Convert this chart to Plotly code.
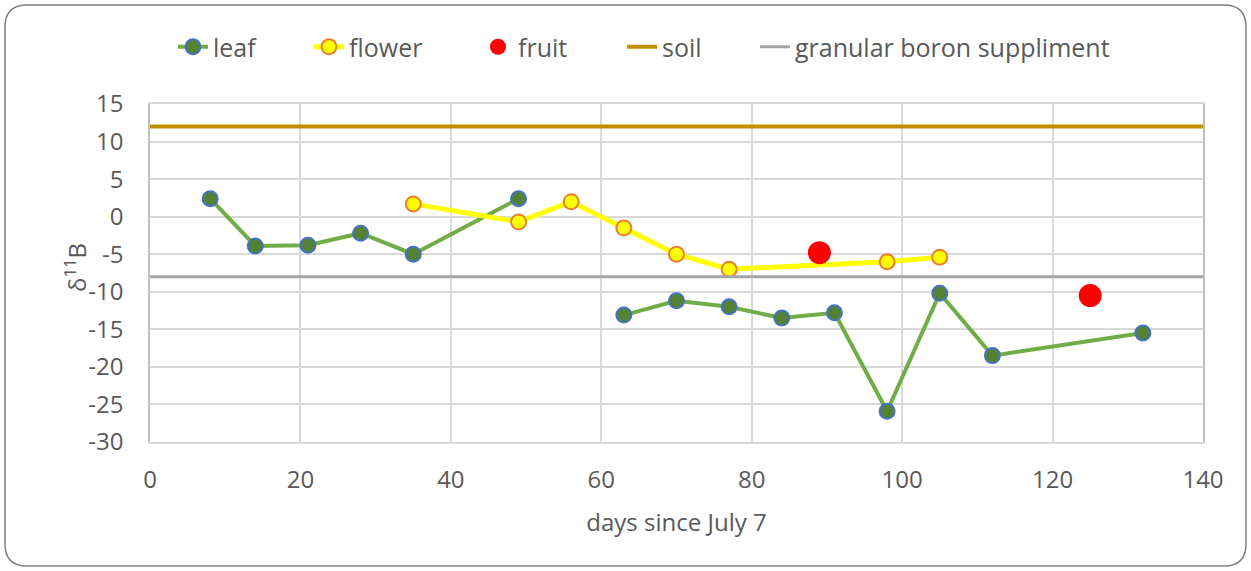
"""Boron isotope chart: leaf, flower, fruit vs soil and granular supplement."""

import plotly.graph_objects as go

# leaf samples (None marks the gap in the series)
leaf_days = [8, 14, 21, 28, 35, 49, 56, 63, 70, 77, 84, 91, 98, 105, 112, 132]
leaf_d11b = [2.4, -3.9, -3.8, -2.2, -5.0, 2.4, None, -13.1, -11.2, -12.0, -13.5, -12.8, -25.9, -10.2, -18.5, -15.5]

flower_days = [35, 49, 56, 63, 70, 77, 98, 105]
flower_d11b = [1.7, -0.7, 2.0, -1.5, -5.0, -7.0, -6.0, -5.4]

fruit_days = [89, 125]
fruit_d11b = [-4.8, -10.5]

soil_days = [0, 140]
soil_d11b = [12, 12]

granular_days = [0, 140]
granular_d11b = [-8, -8]

x_ticks = [0, 20, 40, 60, 80, 100, 120, 140]
y_ticks = [15, 10, 5, 0, -5, -10, -15, -20, -25, -30]

TEXT = "#595959"
GRID = "#d9d9d9"
FONT = "Open Sans"
W, H = 1053.0, 338.0   # plot area size in px


def px(x):
    return (x - 150) / W


def py(y):
    return (442 - y) / H


fig = go.Figure()
fig.add_trace(go.Scatter(
    x=leaf_days, y=leaf_d11b, name="leaf", mode="lines+markers", legend="legend",
    line=dict(color="#70AD47", width=4),
    marker=dict(size=15, color="#548235", line=dict(color="#4472C4", width=2)),
))
fig.add_trace(go.Scatter(
    x=flower_days, y=flower_d11b, name="flower", mode="lines+markers", legend="legend2",
    line=dict(color="#FFFF00", width=5),
    marker=dict(size=15, color="#FFFF00", line=dict(color="#ED7D31", width=2)),
))
fig.add_trace(go.Scatter(
    x=fruit_days, y=fruit_d11b, name="fruit", mode="markers", legend="legend3",
    marker=dict(size=23, color="#FF0000"),
))
fig.add_trace(go.Scatter(
    x=soil_days, y=soil_d11b, name="soil", mode="lines", legend="legend4",
    line=dict(color="#BF9000", width=4),
))
fig.add_trace(go.Scatter(
    x=granular_days, y=granular_d11b, name="granular boron suppliment", mode="lines",
    legend="legend5", line=dict(color="#A5A5A5", width=3),
))

# rounded outer border of the chart
x0, x1, y0, y1, r = 5, 1246, 5, 566, 22
path = (
    f"M {px(x0 + r)},{py(y0)} L {px(x1 - r)},{py(y0)} "
    f"Q {px(x1)},{py(y0)} {px(x1)},{py(y0 + r)} L {px(x1)},{py(y1 - r)} "
    f"Q {px(x1)},{py(y1)} {px(x1 - r)},{py(y1)} L {px(x0 + r)},{py(y1)} "
    f"Q {px(x0)},{py(y1)} {px(x0)},{py(y1 - r)} L {px(x0)},{py(y0 + r)} "
    f"Q {px(x0)},{py(y0)} {px(x0 + r)},{py(y0)} Z"
)
fig.add_shape(type="path", xref="paper", yref="paper", path=path,
              line=dict(color="#7f7f7f", width=1.5), layer="below")

# y axis title placed as a rotated annotation
fig.add_annotation(text="δ<sup>11</sup>B", xref="paper", yref="paper",
                   x=px(75), y=py(268), xanchor="center", yanchor="middle",
                   textangle=-90, showarrow=False, font=dict(size=24, color=TEXT))

legend_style = dict(orientation="h", yanchor="middle", y=py(47), xanchor="left",
                    font=dict(size=25, color=TEXT), bgcolor="rgba(0,0,0,0)")
legend_text_x = [213, 349, 518, 662, 795]
legends = {}
for i, tx in enumerate(legend_text_x):
    key = "legend" if i == 0 else f"legend{i + 1}"
    legends[key] = dict(legend_style, x=px(tx - 40))

fig.update_layout(
    width=1251, height=571,
    margin=dict(l=150, r=48, t=104, b=129),
    paper_bgcolor="white", plot_bgcolor="white",
    font=dict(family=FONT, size=24, color=TEXT),
    showlegend=True,
    **legends,
    xaxis=dict(
        range=[0, 140], tickvals=x_ticks, ticktext=[str(v) for v in x_ticks],
        showgrid=True, gridcolor=GRID, gridwidth=1.5,
        showline=True, linecolor=GRID, linewidth=1.5, mirror=True,
        zeroline=False, ticks="", ticklabelstandoff=15,
        tickfont=dict(size=24, color=TEXT),
        title=dict(text="days since July 7", font=dict(size=24, color=TEXT), standoff=21),
    ),
    yaxis=dict(
        range=[-30, 15], tickvals=y_ticks, ticktext=[str(v) for v in y_ticks],
        showgrid=True, gridcolor=GRID, gridwidth=1.5,
        showline=True, linecolor="#bfbfbf", linewidth=1.5, mirror=True,
        zeroline=False, ticks="", ticklabelstandoff=20,
        tickfont=dict(size=24, color=TEXT),
    ),
)

fig.write_html("out.html", config={"displayModeBar": False},
               post_script="document.body.style.margin='0';")
